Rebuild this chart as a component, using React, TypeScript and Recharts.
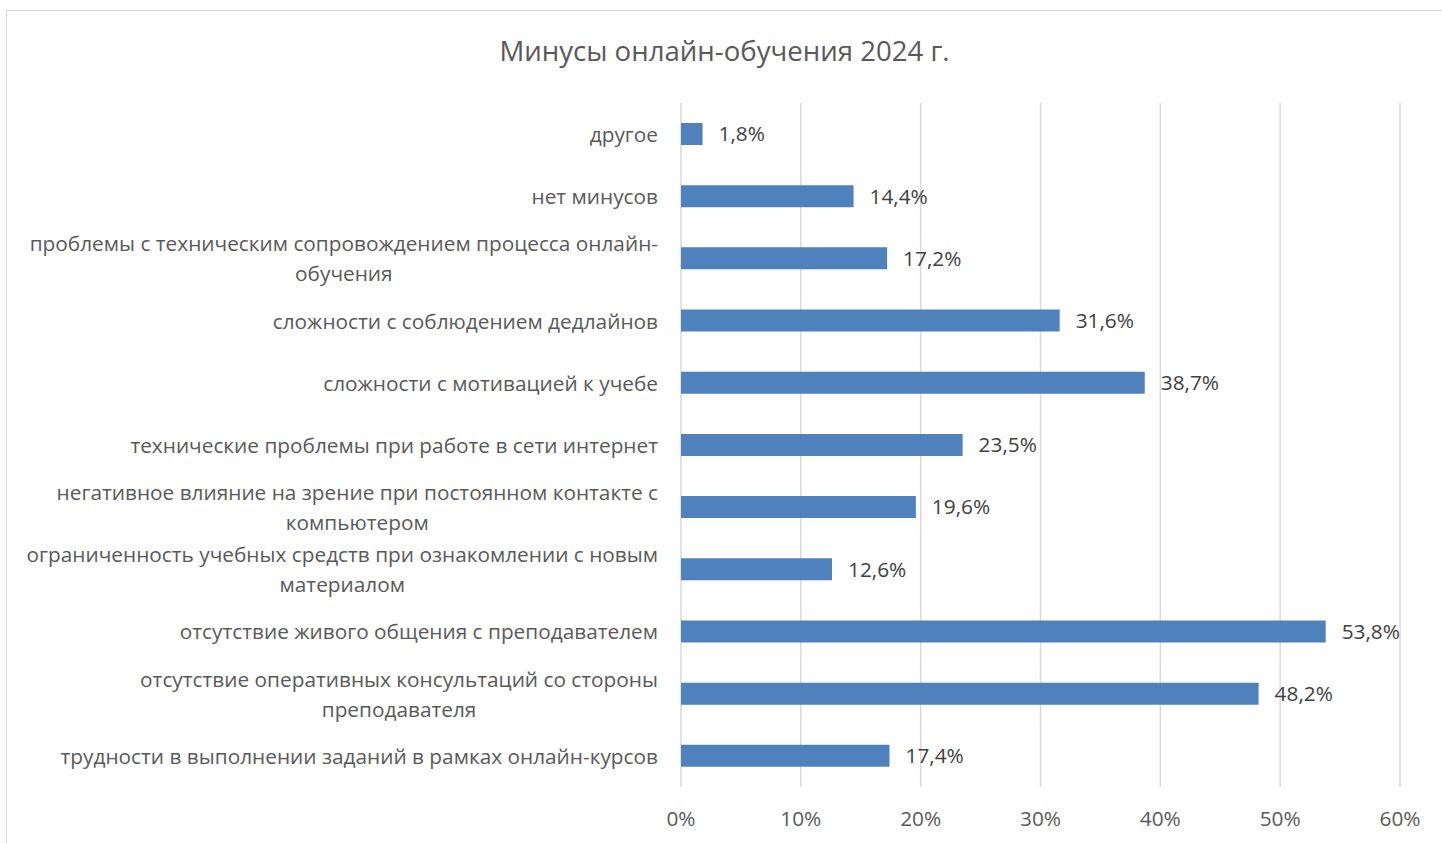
import React from 'react';
import { BarChart, Bar, XAxis, YAxis, CartesianGrid, LabelList } from 'recharts';

const categories = [
  'другое',
  'нет минусов',
  'проблемы с техническим сопровождением процесса онлайн-\nобучения',
  'сложности с соблюдением дедлайнов',
  'сложности с мотивацией к учебе',
  'технические проблемы при работе в сети интернет',
  'негативное влияние на зрение при постоянном контакте с\nкомпьютером',
  'ограниченность учебных средств при ознакомлении с новым\nматериалом',
  'отсутствие живого общения с преподавателем',
  'отсутствие оперативных консультаций со стороны\nпреподавателя',
  'трудности в выполнении заданий в рамках онлайн-курсов',
];
const shares = [1.8, 14.4, 17.2, 31.6, 38.7, 23.5, 19.6, 12.6, 53.8, 48.2, 17.4];
const xTicks = [0, 10, 20, 30, 40, 50, 60];

const data = categories.map((name, i) => ({ name, value: shares[i] }));

const FONT = '"Open Sans", sans-serif';
const FONT_SIZE = 20.8;
const TEXT = '#595959';

let ctx: CanvasRenderingContext2D | null = null;
function measure(s: string) {
  if (!ctx) ctx = document.createElement('canvas').getContext('2d');
  if (!ctx) return s.length * FONT_SIZE * 0.5;
  ctx.font = `${FONT_SIZE}px ${FONT}`;
  return ctx.measureText(s).width;
}

// wrapped labels: block right-aligned to the axis, lines centred inside it
function CategoryTick(props: any) {
  const { x, y, payload } = props;
  const lines: string[] = String(payload.value).split('\n');
  const blockW = Math.max(...lines.map(measure));
  const cx = x - blockW / 2;
  const lh = 30;
  const y0 = y - ((lines.length - 1) * lh) / 2;
  return (
    <text textAnchor="middle" fill={TEXT} fontSize={FONT_SIZE} fontFamily={FONT}>
      {lines.map((l, i) => (
        <tspan key={i} x={cx} y={y0 + i * lh} dy="0.38em">
          {l}
        </tspan>
      ))}
    </text>
  );
}

export default function App() {
  return (
    <div
      style={{
        position: 'absolute',
        left: 6,
        top: 10,
        width: 1435,
        height: 832,
        borderTop: '1px solid #d9d9d9',
        borderLeft: '1px solid #d9d9d9',
        background: '#fff',
        fontFamily: FONT,
      }}
    >
      <div
        style={{
          position: 'absolute',
          top: 20,
          left: 0,
          width: '100%',
          textAlign: 'center',
          fontSize: 27.6,
          color: TEXT,
        }}
      >
        Минусы онлайн-обучения 2024 г.
      </div>
      <BarChart
        width={1435}
        height={832}
        data={data}
        layout="vertical"
        margin={{ top: 92, right: 42, bottom: 26, left: 0 }}
        barCategoryGap={0}
      >
        <CartesianGrid horizontal={false} stroke="#d9d9d9" strokeWidth={1.5} />
        <XAxis
          type="number"
          domain={[0, 60]}
          ticks={xTicks}
          tickFormatter={(v: number) => `${v}%`}
          axisLine={false}
          tickLine={false}
          tickSize={0}
          tickMargin={24}
          height={30}
          tick={{ fill: TEXT, fontSize: FONT_SIZE, fontFamily: FONT }}
        />
        <YAxis
          type="category"
          dataKey="name"
          width={674}
          axisLine={false}
          tickLine={false}
          tickSize={0}
          tickMargin={23}
          interval={0}
          tick={<CategoryTick />}
        />
        <Bar dataKey="value" fill="#4f81bd" barSize={22} isAnimationActive={false}>
          <LabelList
            dataKey="value"
            position="right"
            offset={16}
            formatter={(v: any) => `${String(v).replace('.', ',')}%`}
            fill="#404040"
            fontSize={FONT_SIZE}
            fontFamily={FONT}
          />
        </Bar>
      </BarChart>
    </div>
  );
}
